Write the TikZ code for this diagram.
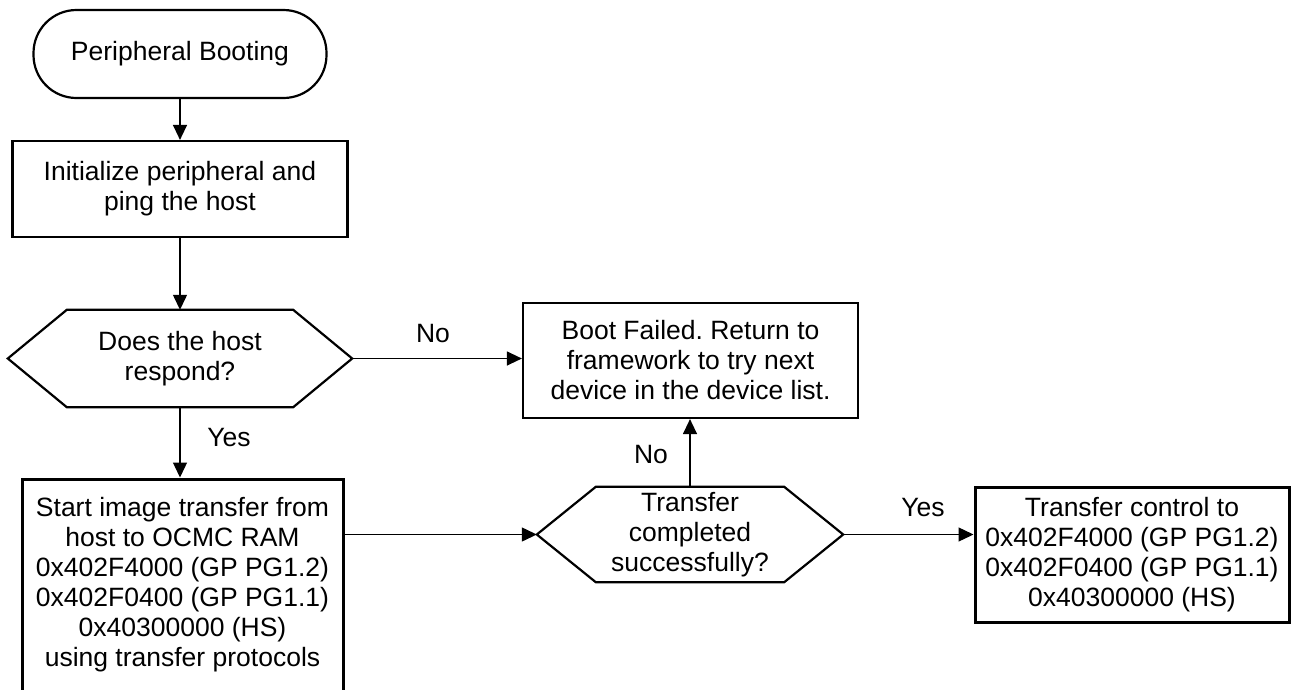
\documentclass[tikz,border=0pt]{standalone}
\usepackage{fontspec}
\setmainfont{Liberation Sans}
\usetikzlibrary{arrows.meta}
\frenchspacing
\begin{document}
\begin{tikzpicture}[x=1pt,y=-1pt,
  every node/.style={font=\fontsize{26.5}{30}\selectfont, text=black, inner sep=0pt, align=center},
  procbox/.style={draw=black, line width=2.2pt, rectangle},
  heavybox/.style={procbox, line width=3pt},
  termbox/.style={draw=black, line width=2.2pt, rectangle, rounded corners=43pt},
  decibox/.style={rectangle, draw=none},
  hexline/.style={draw=black, line width=2.2pt, line join=miter},
  conn/.style={draw=black, line width=1.3pt, -{Triangle[length=15pt,width=14pt]}},
  lbl/.style={}]
\useasboundingbox (0,0) rectangle (1291,689);
\fill[white] (0,0) rectangle (1291,689);
\clip (0,0) rectangle (1291,689);

% nodes
\node[termbox, minimum width=293pt, minimum height=88pt] (start) at (180,54) {Peripheral Booting};
\node[procbox, minimum width=335pt, minimum height=96pt] (init) at (180,189) {Initialize peripheral and\\ping the host};
\node[decibox, minimum width=344pt, minimum height=97pt] (q1) at (180,358.5) {Does the host\\respond?};
\node[procbox, minimum width=335pt, minimum height=115pt] (boot) at (690.5,360.5) {Boot Failed. Return to\\framework to try next\\device in the device list.};
\node[heavybox, minimum width=321pt, minimum height=212pt] (xfer) at (182.5,585) {Start image transfer from\\host to OCMC RAM\\0x402F4000 (GP PG1.2)\\0x402F0400 (GP PG1.1)\\0x40300000 (HS)\\using transfer protocols};
\node[decibox, minimum width=306pt, minimum height=95pt] (q2) at (690,534.5) {Transfer\\completed\\successfully?};
\node[heavybox, minimum width=314pt, minimum height=135pt] (ctrl) at (1132,554.5) {Transfer control to\\0x402F4000 (GP PG1.2)\\0x402F0400 (GP PG1.1)\\0x40300000 (HS)};

% hexagon outlines
\draw[hexline] (q1.west) -- ([xshift=59pt]q1.north west) -- ([xshift=-59pt]q1.north east) -- (q1.east) -- ([xshift=-59pt]q1.south east) -- ([xshift=59pt]q1.south west) -- cycle;
\draw[hexline] (q2.west) -- ([xshift=59pt]q2.north west) -- ([xshift=-59pt]q2.north east) -- (q2.east) -- ([xshift=-59pt]q2.south east) -- ([xshift=59pt]q2.south west) -- cycle;

% connectors
\draw[conn] (start.south) -- (init.north);
\draw[conn] (init.south) -- (q1.north);
\draw[conn] (q1.east) -- (q1.east -| boot.west);
\draw[conn] (q1.south) -- (q1.south |- xfer.north);
\draw[conn] (q2.west -| xfer.east) -- (q2.west);
\draw[conn] (q2.north) -- (q2.north |- boot.south);
\draw[conn] (q2.east) -- (q2.east -| ctrl.west);

% labels
\node[lbl] (l1) at (433,334) {No};
\node[lbl] (l2) at (229,438) {Yes};
\node[lbl] (l3) at (651,455) {No};
\node[lbl] (l4) at (923,508) {Yes};
\end{tikzpicture}
\end{document}
